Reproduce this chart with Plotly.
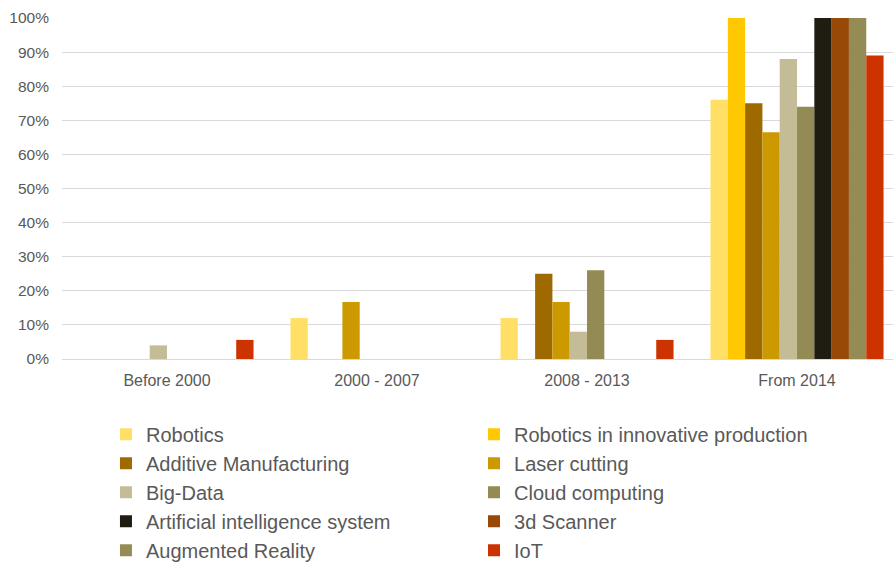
import plotly.graph_objects as go

periods = ["Before 2000", "2000 - 2007", "2008 - 2013", "From 2014"]

technologies = [
    "Robotics",
    "Robotics in innovative production",
    "Additive Manufacturing",
    "Laser cutting",
    "Big-Data",
    "Cloud computing",
    "Artificial intelligence system",
    "3d Scanner",
    "Augmented Reality",
    "IoT",
]

# share of adopters per period (fraction), one list per technology
robotics = [0.0, 0.12, 0.12, 0.76]
robotics_innovative = [0.0, 0.0, 0.0, 1.0]
additive_manufacturing = [0.0, 0.0, 0.25, 0.75]
laser_cutting = [0.0, 0.167, 0.167, 0.665]
big_data = [0.04, 0.0, 0.08, 0.88]
cloud_computing = [0.0, 0.0, 0.26, 0.74]
ai_system = [0.0, 0.0, 0.0, 1.0]
scanner_3d = [0.0, 0.0, 0.0, 1.0]
augmented_reality = [0.0, 0.0, 0.0, 1.0]
iot = [0.056, 0.0, 0.056, 0.89]

series = [
    robotics, robotics_innovative, additive_manufacturing, laser_cutting,
    big_data, cloud_computing, ai_system, scanner_3d, augmented_reality, iot,
]

colors = [
    "#FFDF66", "#FFC800", "#9E6A00", "#CC9900", "#C4BC96",
    "#948A54", "#1F1D12", "#984807", "#958C55", "#CC3300",
]

fig = go.Figure()
for i, (name, vals, col) in enumerate(zip(technologies, series, colors)):
    # legend entries alternate between a left and a right column
    fig.add_trace(go.Bar(
        x=periods, y=vals, name=name,
        marker=dict(color=col, line=dict(width=0)),
        legend="legend" if i % 2 == 0 else "legend2",
    ))

text_color = "#595959"
legend_common = dict(
    orientation="v", xref="paper", yref="container",
    xanchor="left", yanchor="top", y=0.2634,
    font=dict(size=20, color=text_color),
    itemwidth=30, traceorder="normal",
    bgcolor="rgba(0,0,0,0)",
)

fig.update_layout(
    width=893, height=563,
    barmode="group", bargap=0.176, bargroupgap=0,
    plot_bgcolor="white", paper_bgcolor="white",
    margin=dict(l=62, r=0, t=18, b=204, pad=0),
    font=dict(family="Liberation Sans, Arial, sans-serif", color=text_color, size=14),
    xaxis=dict(
        range=[-0.5, 3.457],
        showgrid=False, showline=False, zeroline=False,
        ticks="", ticklabelstandoff=10,
        tickfont=dict(size=16, color=text_color),
    ),
    yaxis=dict(
        range=[0, 1.0], tickvals=[i / 10 for i in range(11)], tickformat=".0%",
        showgrid=True, gridcolor="#D9D9D9", gridwidth=1,
        zeroline=True, zerolinecolor="#D9D9D9", zerolinewidth=1,
        showline=False, ticks="", ticklabelstandoff=12,
        tickfont=dict(size=15.5, color=text_color),
    ),
    legend=dict(x=0.0529, **legend_common),
    legend2=dict(x=0.4958, **legend_common),
)

fig.write_html("out.html")
